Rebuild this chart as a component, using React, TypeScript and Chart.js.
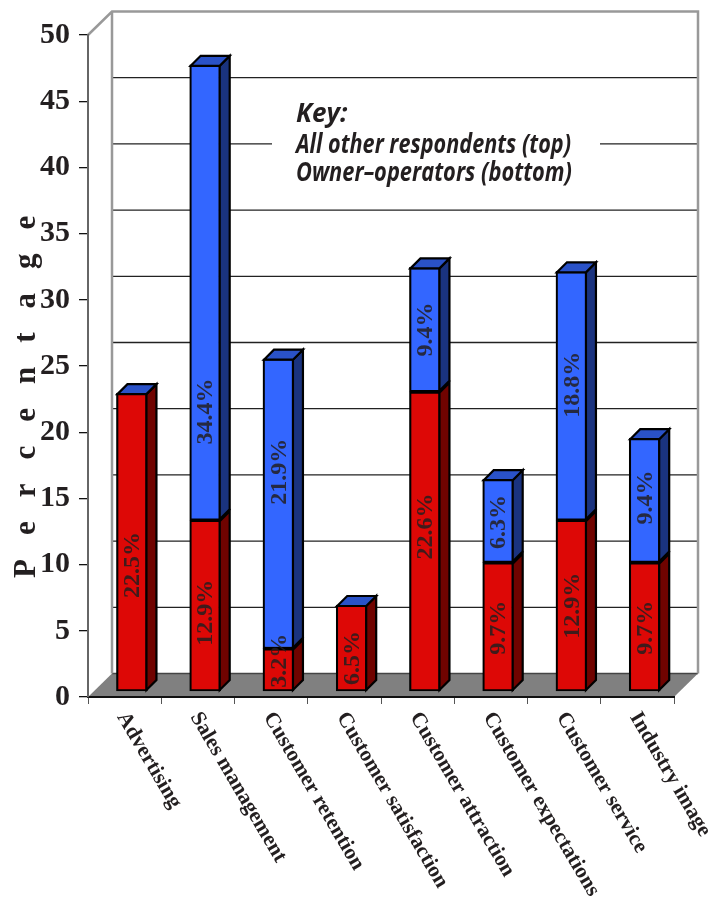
import React, { useEffect, useRef } from "react";
import { Chart, registerables } from "chart.js";

Chart.register(...registerables);

const categories = [
  "Advertising",
  "Sales management",
  "Customer retention",
  "Customer satisfaction",
  "Customer attraction",
  "Customer expectations",
  "Customer service",
  "Industry image",
];
const ownerOperators = [22.5, 12.9, 3.2, 6.5, 22.6, 9.7, 12.9, 9.7];
const allOtherRespondents = [0, 34.4, 21.9, 0, 9.4, 6.3, 18.8, 9.4];
const keyLines = ["Key:", "All other respondents (top)", "Owner\u2013operators (bottom)"];
const axisTitle = "Percentage";

// pixel nudges of the value captions along each bar, as in the reference
const ownerCaptionShift = [23, 7, -9, 10, -15, 1, 0, 1];
const otherCaptionShift = [0, 119, -32, 0, 0, 1, -11, -3];

const INK = "#231f20";
const DEPTH = 10;
const WALL_X = 24;
const WALL_Y = -23.5;
const SERIF = "'Liberation Serif', serif";

const wallPlugin = {
  id: "wall",
  beforeDraw(chart: any) {
    const { ctx, chartArea: a, scales } = chart;
    const y = scales.y;
    ctx.save();
    // floor
    ctx.fillStyle = "#808080";
    ctx.beginPath();
    ctx.moveTo(a.left, a.bottom);
    ctx.lineTo(a.left + WALL_X, a.bottom + WALL_Y);
    ctx.lineTo(a.right + WALL_X, a.bottom + WALL_Y);
    ctx.lineTo(a.right, a.bottom);
    ctx.closePath();
    ctx.fill();
    // back grid lines
    ctx.lineWidth = 1.3;
    for (let v = 0; v < 50; v += 5) {
      const py = y.getPixelForValue(v) + WALL_Y;
      ctx.strokeStyle = v === 0 ? "#444" : "#222";
      ctx.beginPath();
      ctx.moveTo(a.left + WALL_X, py);
      ctx.lineTo(a.right + WALL_X, py);
      ctx.stroke();
    }
    // wall frame
    ctx.strokeStyle = "#999";
    ctx.lineWidth = 2.5;
    const top = y.getPixelForValue(50);
    ctx.beginPath();
    ctx.moveTo(a.left, top);
    ctx.lineTo(a.left + WALL_X, top + WALL_Y);
    ctx.lineTo(a.right + WALL_X, top + WALL_Y);
    ctx.lineTo(a.right + WALL_X, a.bottom + WALL_Y);
    ctx.moveTo(a.left + WALL_X, top + WALL_Y);
    ctx.lineTo(a.left + WALL_X, a.bottom + WALL_Y);
    ctx.stroke();
    // key
    ctx.fillStyle = "#fff";
    ctx.fillRect(272, 136, 328, 16);
    ctx.fillStyle = INK;
    ctx.textAlign = "left";
    ctx.textBaseline = "alphabetic";
    ctx.font = "italic bold 26px 'Open Sans', sans-serif";
    const widths = [52, 275, 276];
    keyLines.forEach((t, i) => ctx.fillText(t, 296, [122, 153, 181][i], widths[i]));
    // rotated axis title
    ctx.save();
    ctx.translate(35, 578);
    ctx.rotate(-Math.PI / 2);
    ctx.font = `bold 31px ${SERIF}`;
    let tx = 0;
    for (const ch of axisTitle) {
      ctx.fillText(ch, tx, 0);
      tx += ctx.measureText(ch).width + 24;
    }
    ctx.restore();
    // category labels
    ctx.font = `bold 21.5px ${SERIF}`;
    ctx.textBaseline = "middle";
    categories.forEach((c, i) => {
      ctx.save();
      ctx.translate(scales.x.getPixelForValue(i) - 3, 714);
      ctx.rotate((59.5 * Math.PI) / 180);
      ctx.fillText(c, 0, 0);
      ctx.restore();
    });
    ctx.restore();
  },
};

const barPlugin = {
  id: "bar3d",
  afterDatasetsDraw(chart: any) {
    const { ctx } = chart;
    const lower = chart.getDatasetMeta(0).data;
    const upper = chart.getDatasetMeta(1).data;
    const sides = ["#700300", "#1a337f"];
    ctx.save();
    ctx.lineWidth = 2.2;
    ctx.strokeStyle = "#000";
    ctx.lineJoin = "miter";
    [lower, upper].forEach((els: any[], k: number) => {
      els.forEach((el: any) => {
        const r = el.x + el.width / 2 - 1;
        const t = el.y + 1;
        const b = el.base - 1;
        ctx.fillStyle = sides[k];
        ctx.beginPath();
        ctx.moveTo(r, b);
        ctx.lineTo(r + DEPTH, b - DEPTH);
        ctx.lineTo(r + DEPTH, t - DEPTH);
        ctx.lineTo(r, t);
        ctx.closePath();
        if (el.height > 0.5) {
          ctx.fill();
          ctx.stroke();
        }
      });
    });
    upper.forEach((el: any) => {
      const l = el.x - el.width / 2 + 1;
      const r = el.x + el.width / 2 - 1;
      const t = el.y + 1;
      ctx.fillStyle = "#2a52c8";
      ctx.beginPath();
      ctx.moveTo(l, t);
      ctx.lineTo(l + DEPTH, t - DEPTH);
      ctx.lineTo(r + DEPTH, t - DEPTH);
      ctx.lineTo(r, t);
      ctx.closePath();
      ctx.fill();
      ctx.stroke();
    });
    // value captions
    ctx.font = `bold 24px ${SERIF}`;
    ctx.textAlign = "center";
    ctx.textBaseline = "middle";
    ctx.fillStyle = "rgba(35,31,32,0.85)";
    const caption = (els: any[], vals: number[], shift: number[]) => {
      els.forEach((el: any, i: number) => {
        if (!vals[i]) return;
        ctx.save();
        ctx.translate(el.x + 1, (el.y + el.base) / 2 + shift[i]);
        ctx.rotate(-Math.PI / 2);
        ctx.fillText(`${vals[i].toFixed(1)}%`, 0, 0);
        ctx.restore();
      });
    };
    caption(lower, ownerOperators, ownerCaptionShift);
    caption(upper, allOtherRespondents, otherCaptionShift);
    ctx.restore();
  },
};

export default function App() {
  const ref = useRef<HTMLCanvasElement>(null);
  useEffect(() => {
    const chart = new Chart(ref.current as any, {
      type: "bar",
      data: {
        labels: categories,
        datasets: [
          {
            label: "Owner-operators (bottom)",
            data: ownerOperators.map((y, x) => ({ x, y })),
            backgroundColor: "#dd0806",
            borderColor: "#000",
            borderWidth: 2.2,
            borderSkipped: false,
            barThickness: 31,
            xAxisID: "x2",
            yAxisID: "y2",
          },
          {
            label: "All other respondents (top)",
            data: allOtherRespondents.map((y, x) => ({ x, y })),
            backgroundColor: "#3366ff",
            borderColor: "#000",
            borderWidth: 2.2,
            borderSkipped: false,
            barThickness: 31,
            xAxisID: "x2",
            yAxisID: "y2",
          },
        ],
      },
      options: {
        responsive: false,
        animation: false,
        devicePixelRatio: 1,
        layout: { padding: { left: 0, top: 35, right: 40, bottom: 0 } },
        plugins: { legend: { display: false }, tooltip: { enabled: false }, title: { display: false } },
        scales: {
          x: {
            type: "category",
            offset: true,
            position: "bottom",
            grid: {
              offset: true,
              drawOnChartArea: false,
              drawTicks: true,
              tickLength: 7,
              color: "#555",
              lineWidth: 1,
            },
            border: { color: "#111", width: 2 },
            ticks: { display: false },
            afterFit: (s: any) => {
              s.height = 204;
            },
          },
          y: {
            type: "linear",
            position: "left",
            min: 0,
            max: 50,
            grid: { drawOnChartArea: false, drawTicks: true, tickLength: 9, color: "#111", lineWidth: 1.3 },
            border: { color: "#666", width: 2 },
            ticks: {
              stepSize: 5,
              padding: 9,
              color: INK,
              font: { family: "Liberation Serif", size: 30, weight: "bold" },
            },
            afterFit: (s: any) => {
              s.width = 88;
            },
          },
          x2: { type: "linear", display: false, stacked: true, min: -0.6, max: 7.4, offset: false },
          y2: { type: "linear", display: false, stacked: true, min: -0.45, max: 49.55 },
        },
      } as any,
      plugins: [wallPlugin, barPlugin],
    });
    return () => chart.destroy();
  }, []);
  return (
    <canvas
      ref={ref}
      width={714}
      height={901}
      style={{ position: "absolute", left: 0, top: 0, width: 714, height: 901, display: "block" }}
    />
  );
}
